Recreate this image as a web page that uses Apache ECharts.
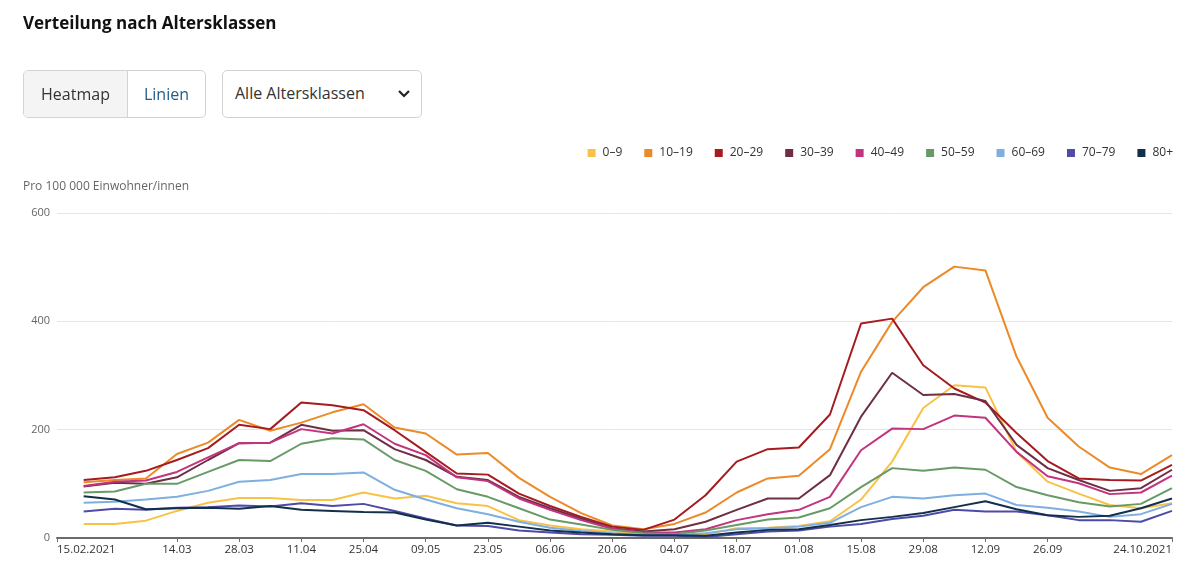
<!DOCTYPE html>
<html>
<head>
<meta charset="utf-8">
<script src="https://cdn.jsdelivr.net/npm/echarts@6/dist/echarts.min.js"></script>
<style>
  html, body { margin: 0; padding: 0; background: #fff; width: 1195px; height: 573px; overflow: hidden; font-family: "Open Sans", "Noto Sans", sans-serif; }
  #chart { position: absolute; left: 0; top: 0; width: 1195px; height: 573px; }
  .title { position: absolute; left: 23px; top: 11px; font-size: 17px; font-weight: 700; color: #111; z-index: 2; }
  .seg { position: absolute; left: 23px; top: 70px; width: 181px; height: 46px; border: 1px solid #d3d3d3; border-radius: 5px; overflow: hidden; display: flex; z-index: 2; background: #fff; }
  .seg div { display: flex; align-items: center; justify-content: center; font-size: 16px; height: 100%; }
  .seg .a { width: 103px; background: #f4f4f4; color: #333; border-right: 1px solid #d3d3d3; }
  .seg .b { flex: 1; color: #1f5c8a; }
  .dd { position: absolute; left: 222px; top: 70px; width: 198px; height: 46px; border: 1px solid #d3d3d3; border-radius: 5px; z-index: 2; background: #fff; }
  .dd span { position: absolute; left: 12px; top: 11px; font-size: 16px; color: #333; }
  .dd svg { position: absolute; left: 174px; top: 18px; }
  .unit { position: absolute; left: 23px; top: 177px; font-size: 12px; color: #666; z-index: 2; }
</style>
</head>
<body>
<div id="chart"></div>
<div class="title">Verteilung nach Altersklassen</div>
<div class="seg"><div class="a">Heatmap</div><div class="b">Linien</div></div>
<div class="dd"><span>Alle Altersklassen</span><svg width="14" height="10" viewBox="0 0 14 10"><polyline points="2,2 7,7 12,2" fill="none" stroke="#222" stroke-width="2.2"/></svg></div>
<div class="unit">Pro 100 000 Einwohner/innen</div>
<script>
// Week end dates (Sundays)
const dates = [
  '2021-02-21','2021-02-28','2021-03-07','2021-03-14','2021-03-21','2021-03-28',
  '2021-04-04','2021-04-11','2021-04-18','2021-04-25','2021-05-02','2021-05-09',
  '2021-05-16','2021-05-23','2021-05-30','2021-06-06','2021-06-13','2021-06-20',
  '2021-06-27','2021-07-04','2021-07-11','2021-07-18','2021-07-25','2021-08-01',
  '2021-08-08','2021-08-15','2021-08-22','2021-08-29','2021-09-05','2021-09-12',
  '2021-09-19','2021-09-26','2021-10-03','2021-10-10','2021-10-17','2021-10-24'
];
const seriesNames = ['0–9','10–19','20–29','30–39','40–49','50–59','60–69','70–79','80+'];
const colors = ['#f8c246','#ec8a28','#a51b1f','#6e2f45','#c2347d','#689a66','#7eafe0','#4e4aa8','#12304b'];

const age0_9   = [26,26,32,50,65,74,74,70,70,84,73,78,64,59,33,23,16,12,7,6,7,18,19,22,31,71,141,240,282,278,159,104,82,61,55,64];
const age10_19 = [103,107,110,155,176,218,198,213,232,247,204,193,154,157,111,76,46,23,16,26,47,84,110,115,164,307,399,463,501,494,335,222,169,130,118,153];
const age20_29 = [107,112,124,144,166,209,201,250,245,236,199,159,119,117,82,59,39,21,15,34,79,141,164,167,228,396,405,319,276,250,194,142,110,107,106,135];
const age30_39 = [95,102,100,112,144,175,176,209,198,199,164,144,113,107,76,55,36,18,12,16,30,52,73,73,116,224,305,264,266,253,172,129,107,87,92,126];
const age40_49 = [96,104,106,122,149,175,176,201,193,210,174,153,112,105,73,52,33,17,10,10,16,33,44,52,76,162,202,201,226,222,159,114,101,81,84,115];
const age50_59 = [84,86,100,100,122,144,142,174,184,182,144,124,90,76,55,34,25,15,9,7,14,24,34,38,55,94,129,124,130,126,94,79,66,58,63,92];
const age60_69 = [65,67,71,76,87,104,107,118,118,121,89,71,55,44,30,19,13,9,6,5,9,16,18,21,28,57,76,73,79,82,61,56,49,39,44,63];
const age70_79 = [49,54,52,56,57,60,58,64,59,63,50,36,23,22,14,10,7,6,4,4,2,7,12,14,21,26,35,41,52,49,49,42,33,33,30,50];
const age80    = [77,71,53,55,56,54,59,52,50,48,47,34,23,28,21,14,10,7,5,5,4,10,15,16,24,33,39,46,57,68,53,42,39,41,55,73];

const tickDates = ['2021-02-15','2021-03-14','2021-03-28','2021-04-11','2021-04-25','2021-05-09','2021-05-23',
  '2021-06-06','2021-06-20','2021-07-04','2021-07-18','2021-08-01','2021-08-15','2021-08-29','2021-09-12','2021-09-26','2021-10-24'];
const tickLabels = ['15.02.2021','14.03','28.03','11.04','25.04','09.05','23.05','06.06','20.06','04.07',
  '18.07','01.08','15.08','29.08','12.09','26.09','24.10.2021'];

// day number relative to 15.02.2021 (UTC-based, no DST issues)
const DAY = 86400000;
const BASE = Date.UTC(2021, 1, 15);
function dayNum(s) { const p = s.split('-'); return Math.round((Date.UTC(+p[0], +p[1] - 1, +p[2]) - BASE) / DAY); }
const tickDays = tickDates.map(dayNum);
const labelMap = {};
tickDays.forEach((d, i) => { labelMap[d] = tickLabels[i]; });

const allSeries = [age0_9, age10_19, age20_29, age30_39, age40_49, age50_59, age60_69, age70_79, age80];

const chart = echarts.init(document.getElementById('chart'), null, { renderer: 'canvas' });
chart.setOption({
  animation: false,
  color: colors,
  textStyle: { fontFamily: '"Open Sans", "Noto Sans", sans-serif' },
  legend: {
    right: 17, top: 142,
    icon: 'rect', itemWidth: 8, itemHeight: 8, itemGap: 22,
    textStyle: { fontSize: 12, color: '#333', padding: [0, 0, 0, 2] },
    data: seriesNames
  },
  grid: { left: 57, right: 23, top: 213, bottom: 35, containLabel: false },
  xAxis: {
    type: 'value',
    min: tickDays[0],
    max: tickDays[tickDays.length - 1],
    axisLine: { show: true, onZero: false, lineStyle: { color: '#6b6b6b', width: 2 } },
    axisTick: { show: true, length: 4, lineStyle: { color: '#6b6b6b' }, customValues: tickDays },
    splitLine: { show: false },
    axisLabel: {
      customValues: tickDays,
      formatter: v => labelMap[v] || '',
      color: '#333', fontSize: 11.5, margin: 6,
      alignMinLabel: 'left', alignMaxLabel: 'right'
    }
  },
  yAxis: {
    type: 'value', min: 0, max: 600, interval: 200,
    axisLine: { show: false }, axisTick: { show: false },
    axisLabel: { color: '#666', fontSize: 11, margin: 7 },
    splitLine: { lineStyle: { color: '#e5e5e5', width: 1 } }
  },
  series: allSeries.map((vals, k) => ({
    name: seriesNames[k],
    type: 'line',
    showSymbol: false,
    symbol: 'none',
    lineStyle: { width: 2 },
    data: vals.map((v, i) => [dayNum(dates[i]), v])
  }))
});
</script>
</body>
</html>
